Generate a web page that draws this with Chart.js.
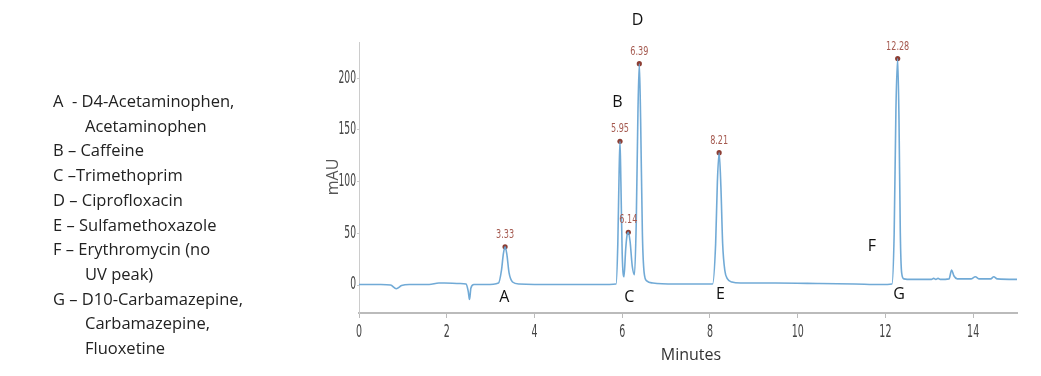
<!DOCTYPE html>
<html>
<head>
  <meta charset="utf-8">
  <title>Chromatogram with Chart.js</title>
  <script src="https://cdn.jsdelivr.net/npm/chart.js"></script>
  <style>
    body { margin: 0; background: #fff; }
    #wrap { position: relative; width: 1041px; height: 376px; }
    #key { position: absolute; left: 53px; top: 89px; font-family: "Open Sans", Lato, sans-serif; font-size: 16.5px; color: #222; line-height: 24.7px; white-space: pre; }
    #key .cont { padding-left: 32px; }
  </style>
</head>
<body>
  <div id="wrap">
    <canvas id="myChart"></canvas>
    <div id="key"></div>
  </div>

  <script>
    // retention time (min) and absorbance (mAU)
    const times = [0, 0.5, 0.72, 0.85, 0.97, 1.15, 1.6, 1.82, 1.95, 2.3, 2.44, 2.49, 2.52, 2.55, 2.62, 2.9,
      3.18, 3.25, 3.29, 3.33, 3.37, 3.42, 3.5, 3.65, 4.5, 5.5, 5.86,
      5.9, 5.93, 5.95, 5.97, 6.0, 6.04, 6.08, 6.11, 6.14, 6.18, 6.23, 6.28, 6.32, 6.36, 6.39, 6.42, 6.46, 6.5, 6.56, 6.7, 7.2,
      8.06, 8.13, 8.17, 8.21, 8.25, 8.29, 8.34, 8.4, 8.5, 8.7, 9.5, 10.5, 11.3, 11.9, 12.15,
      12.2, 12.24, 12.28, 12.31, 12.34, 12.37, 12.42, 12.6, 13.05, 13.1, 13.15, 13.2, 13.25, 13.45,
      13.51, 13.56, 13.64, 13.95, 14.05, 14.14, 14.4, 14.47, 14.55, 15];
    const mau = [0.5, 0.5, 0, -3.5, -0.5, 0.5, 0.5, 2, 2, 1.5, 1, -6, -14, -3, 0.5, 0.5,
      2, 15, 30, 37, 30, 12, 3, 1, 0.5, 0.5, 1,
      40, 110, 139, 100, 30, 8, 35, 48, 51, 42, 18, 10, 60, 170, 214, 160, 50, 12, 4, 2, 1,
      1, 40, 100, 128, 95, 40, 14, 6, 3, 2, 2, 1.5, 1, 0.5, 1,
      50, 170, 219, 160, 50, 12, 6, 5.5, 5.5, 6.5, 5.5, 6.5, 5.5, 6,
      14.5, 9, 6, 6, 8, 6, 6, 8, 6, 5.5];

    const peakTimes = [3.33, 5.95, 6.14, 6.39, 8.21, 12.28];
    const peakHeights = [37, 139, 51, 214, 128, 219];
    const peakLabels = ['3.33', '5.95', '6.14', '6.39', '8.21', '12.28'];

    // compound letters placed at (time, mAU)
    const letters = ['A', 'B', 'C', 'D', 'E', 'F', 'G'];
    const letterTimes = [3.31, 5.89, 6.16, 6.35, 8.24, 11.69, 12.31];
    const letterValues = [-11.5, 177, -11.5, 256, -8.7, 37.7, -8.7];

    const xTicks = [0, 2, 4, 6, 8, 10, 12, 14];
    const yTicks = [0, 50, 100, 150, 200];

    const keyLines = [
      ['A  - D4-Acetaminophen,', false], ['Acetaminophen', true],
      ['B \u2013 Caffeine', false],
      ['C \u2013Trimethoprim', false],
      ['D \u2013 Ciprofloxacin', false],
      ['E \u2013 Sulfamethoxazole', false],
      ['F \u2013 Erythromycin (no', false], ['UV peak)', true],
      ['G \u2013 D10-Carbamazepine,', false], ['Carbamazepine,', true], ['Fluoxetine', true]
    ];

    const key = document.getElementById('key');
    keyLines.forEach(([txt, cont]) => {
      const d = document.createElement('div');
      d.textContent = txt;
      if (cont) d.className = 'cont';
      key.appendChild(d);
    });

    function narrowText(ctx, txt, x, y, sx, align) {
      ctx.save();
      ctx.translate(x, y);
      ctx.scale(sx, 1);
      ctx.textAlign = align;
      ctx.textBaseline = 'middle';
      ctx.fillText(txt, 0, 0);
      ctx.restore();
    }

    const extras = {
      id: 'extras',
      afterDraw(chart) {
        const ctx = chart.ctx;
        const x = chart.scales.x, y = chart.scales.y;
        ctx.save();
        // tick labels
        ctx.fillStyle = '#444';
        ctx.font = '17px "DejaVu Sans Condensed", "DejaVu Sans", sans-serif';
        xTicks.forEach(v => narrowText(ctx, String(v), x.getPixelForValue(v), y.bottom + 20, 0.62, 'center'));
        yTicks.forEach(v => narrowText(ctx, String(v), x.left - 3, y.getPixelForValue(v), 0.6, 'right'));

        // axis titles
        ctx.fillStyle = '#333';
        ctx.font = '16px "Open Sans", Lato, sans-serif';
        ctx.textAlign = 'center';
        ctx.textBaseline = 'middle';
        ctx.fillText('Minutes', 691, y.bottom + 42);
        ctx.save();
        ctx.translate(333, 177);
        ctx.rotate(-Math.PI / 2);
        ctx.fillStyle = '#555';
        ctx.font = '16px "Open Sans", Lato, sans-serif';
        ctx.fillText('mAU', 0, 0);
        ctx.restore();

        // peak time labels
        ctx.fillStyle = 'rgb(165,90,80)';
        ctx.font = '12px "DejaVu Sans Condensed", "DejaVu Sans", sans-serif';
        peakTimes.forEach((t, i) => {
          narrowText(ctx, peakLabels[i], x.getPixelForValue(t), y.getPixelForValue(peakHeights[i]) - 12, 0.75, 'center');
        });

        // compound letters
        ctx.fillStyle = '#111';
        ctx.font = '16px "Open Sans", Lato, sans-serif';
        ctx.textAlign = 'center';
        ctx.textBaseline = 'middle';
        letters.forEach((l, i) => {
          ctx.fillText(l, x.getPixelForValue(letterTimes[i]), y.getPixelForValue(letterValues[i]));
        });
        ctx.restore();
      }
    };

    const config = {
      type: 'line',
      data: {
        datasets: [
          {
            data: times.map((t, i) => ({ x: t, y: mau[i] })),
            borderColor: 'rgba(105,165,212,0.95)',
            borderWidth: 1.6,
            pointRadius: 0,
            fill: false,
            cubicInterpolationMode: 'monotone',
          },
          {
            data: peakTimes.map((t, i) => ({ x: t, y: peakHeights[i] })),
            showLine: false,
            pointRadius: 2.6,
            pointBackgroundColor: 'rgb(140,62,52)',
            pointBorderWidth: 0,
          },
        ],
      },
      options: {
        responsive: true,
        maintainAspectRatio: false,
        animation: false,
        layout: { padding: { left: 357, top: 42, right: 24, bottom: 58 } },
        scales: {
          x: {
            type: 'linear',
            min: 0,
            max: 15,
            ticks: { display: false, stepSize: 2, includeBounds: false },
            grid: { drawOnChartArea: false, drawTicks: true, tickLength: 5, color: '#bbb' },
            border: { color: '#bbb', width: 2 },
          },
          y: {
            min: -27,
            max: 235,
            ticks: { display: false, stepSize: 50, includeBounds: false },
            grid: { drawOnChartArea: false, drawTicks: true, tickLength: 2, color: '#ccc' },
            border: { color: '#ccc', width: 1 },
          },
        },
        plugins: {
          legend: { display: false },
          tooltip: { enabled: false },
        },
      },
      plugins: [extras],
    };

    new Chart(document.getElementById('myChart'), config);
  </script>
</body>
</html>
